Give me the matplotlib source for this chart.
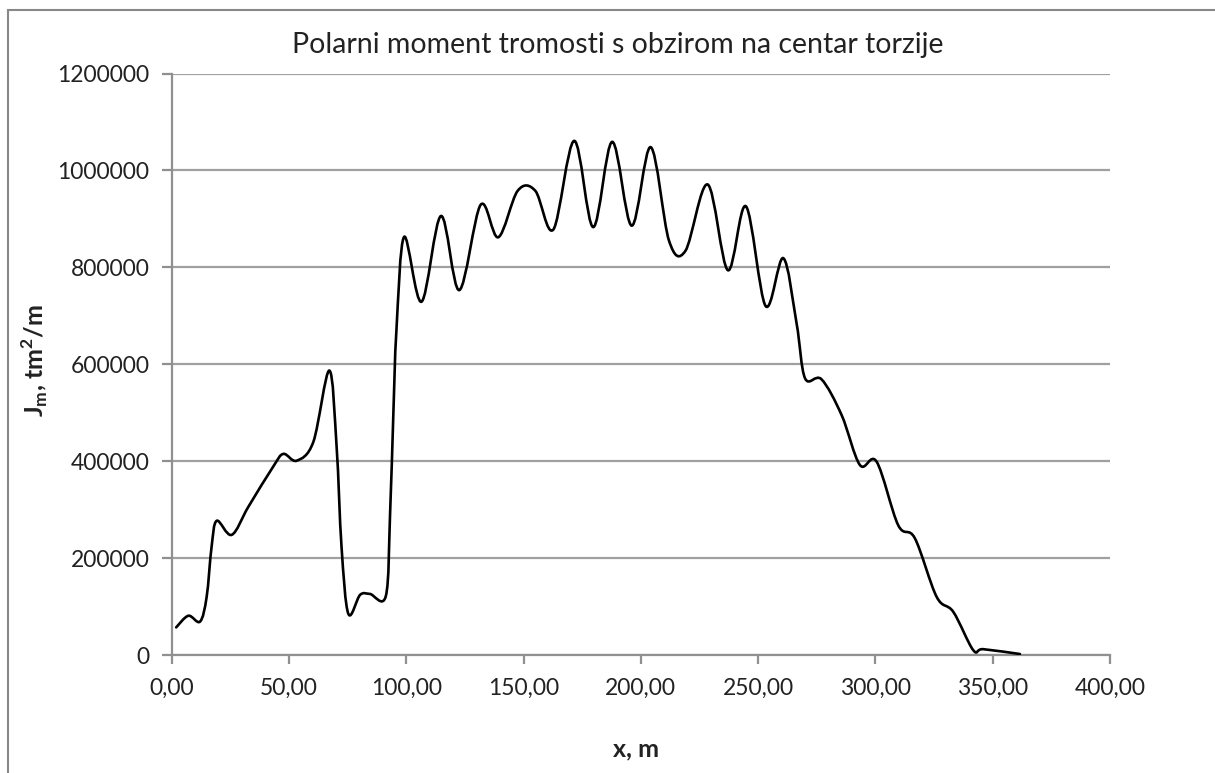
import matplotlib
matplotlib.use("Agg")
import matplotlib.pyplot as plt
import numpy as np
from matplotlib.path import Path
from matplotlib.patches import PathPatch, Rectangle

# Data
x_m = [1.9, 7.1, 12.1, 14.9, 17.0, 19.2, 25.6, 32.7, 43.3, 47.6, 53.3, 60.4,
       67.2, 70.3, 72.4, 75.3, 80.3, 84.5, 91.3, 93.1, 94.5, 95.8, 99.1, 106.5,
       114.8, 122.6, 131.7, 139.2, 147.5, 155.0, 162.7, 171.6, 179.7, 187.8,
       196.1, 204.2, 212.0, 219.0, 228.5, 237.1, 244.8, 253.2, 260.7, 266.4,
       270.0, 277.0, 285.6, 293.4, 300.5, 309.7, 316.8, 326.1, 333.2, 341.7,
       346.0, 361.6]
J_m = [57000, 81000, 69000, 120000, 223000, 277000, 248000, 306000, 389000,
       415000, 401000, 440000, 587000, 430000, 223000, 85000, 124000, 126000,
       122000, 292000, 499000, 670000, 863000, 729000, 906000, 753000, 929000,
       862000, 958000, 958000, 878000, 1061000, 883000, 1059000, 886000,
       1048000, 855000, 834000, 971000, 794000, 926000, 720000, 819000, 684000,
       571000, 569000, 495000, 392000, 399000, 268000, 241000, 120000, 89000,
       10000, 12000, 2000]
x_ticks = [0, 50, 100, 150, 200, 250, 300, 350, 400]
x_tick_labels = ["0,00", "50,00", "100,00", "150,00", "200,00", "250,00",
                 "300,00", "350,00", "400,00"]
y_ticks = [0, 200000, 400000, 600000, 800000, 1000000, 1200000]
y_tick_labels = [str(v) for v in y_ticks]

plt.rcParams['font.family'] = ['Lato', 'DejaVu Sans']
plt.rcParams['mathtext.fontset'] = 'custom'
plt.rcParams['mathtext.rm'] = 'Lato:bold'
plt.rcParams['mathtext.bf'] = 'Lato:bold'

W, H = 1215, 773
fig = plt.figure(figsize=(W / 100, H / 100), dpi=100)
fig.patches.append(Rectangle((8 / W, -0.1), 1.2, (773 - 10) / H + 0.1,
                             transform=fig.transFigure, fill=False,
                             edgecolor='#888888', linewidth=1.5))

ax = fig.add_axes([171.7 / W, (H - 655) / H, (1110 - 171.7) / W, (655 - 73.5) / H])
ax.set_xlim(0, 400)
ax.set_ylim(0, 1200000)

# Smoothed line (Catmull-Rom -> cubic Bezier, like Excel's smoothed scatter)
P = np.column_stack([x_m, J_m]).astype(float)
n = len(P)
verts = [P[0]]
codes = [Path.MOVETO]
for i in range(n - 1):
    p0 = P[i - 1] if i > 0 else P[i]
    p1 = P[i]
    p2 = P[i + 1]
    p3 = P[i + 2] if i + 2 < n else P[i + 1]
    c1 = p1 + (p2 - p0) / 6.0
    c2 = p2 - (p3 - p1) / 6.0
    verts += [c1, c2, p2]
    codes += [Path.CURVE4] * 3
path = Path(verts, codes)
ax.add_patch(PathPatch(path, facecolor='none', edgecolor='black', linewidth=1.9,
                       zorder=3, joinstyle='round', capstyle='round'))

ax.set_xticks(x_ticks)
ax.set_xticklabels(x_tick_labels)
ax.set_yticks(y_ticks)
ax.set_yticklabels(y_tick_labels)
ax.grid(axis='y', color='#a0a0a0', linewidth=1.6)
ax.set_axisbelow(True)
for s in ['top', 'right']:
    ax.spines[s].set_visible(False)
for s in ['left', 'bottom']:
    ax.spines[s].set_color('#909090')
    ax.spines[s].set_linewidth(1.6)
ax.tick_params(axis='both', direction='out', width=1.6, color='#909090',
               labelsize=16.5, labelcolor='#222222')
ax.tick_params(axis='x', length=6.5, pad=10)
ax.tick_params(axis='y', length=7, pad=9)

fig.text(618 / W, 1 - 45 / H, "Polarni moment tromosti s obzirom na centar torzije",
         fontsize=20.5, color='#222222', ha='center', va='center')
fig.text(636 / W, 1 - 749 / H, "x, m", fontsize=18, fontweight='bold',
         color='#222222', ha='center', va='center')
fig.text(35 / W, 1 - 361 / H, r"J$_\mathregular{m}$, tm$^\mathregular{2}$/m",
         fontsize=18, fontweight='bold', color='#222222', ha='center',
         va='center', rotation=90)

fig.savefig("out.png", dpi=100)
